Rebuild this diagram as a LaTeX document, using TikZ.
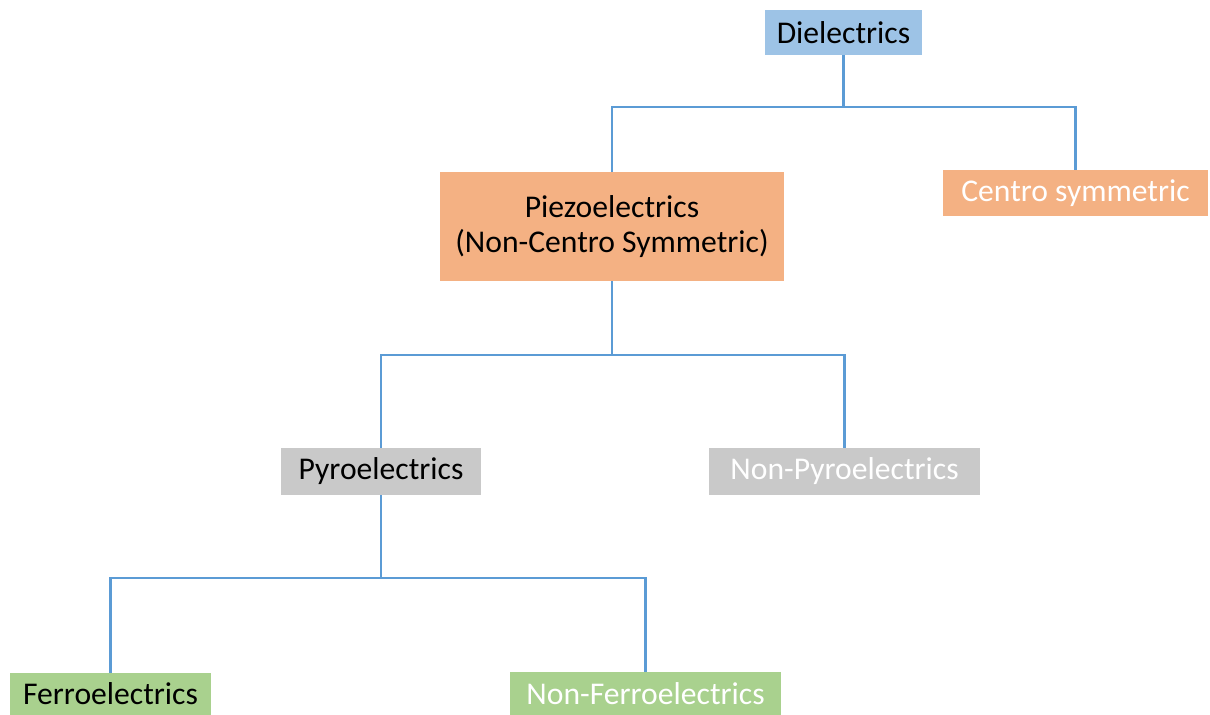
\documentclass[tikz,border=0pt]{standalone}
\usepackage{fontspec}
\setmainfont{Carlito}
\usetikzlibrary{calc}
\definecolor{linkblue}{HTML}{5B9BD5}
\definecolor{boxblue}{HTML}{9DC3E6}
\definecolor{boxorange}{HTML}{F4B183}
\definecolor{boxgrey}{HTML}{C9C9C9}
\definecolor{boxgreen}{HTML}{A9D18E}
\tikzset{
	cls/.style={inner sep=0pt, align=center, font=\fontsize{18}{20}\selectfont},
	link/.style={draw=linkblue, line width=1.4pt}
}

\begin{document}
\begin{tikzpicture}
			%%%%% START %%%%%
			\useasboundingbox (0, 0) rectangle (24.2, -14.3);
			
			\node[cls, fill=boxblue, minimum width=3.14cm, minimum height=0.9cm] (diel) at (16.87, -0.65) {Dielectrics};
			
			\node[cls, fill=boxorange, minimum width=6.88cm, minimum height=2.18cm] (piezo) at (12.24, -4.53) {Piezoelectrics\\(Non-Centro Symmetric)};
			\node[cls, fill=boxorange, text=white, minimum width=5.3cm, minimum height=0.92cm] (centro) at (21.51, -3.86) {Centro symmetric};
			
			\node[cls, fill=boxgrey, minimum width=4cm, minimum height=0.94cm] (pyro) at (7.62, -9.43) {Pyroelectrics};
			\node[cls, fill=boxgrey, text=white, minimum width=5.42cm, minimum height=0.94cm] (nonpyro) at (16.89, -9.43) {Non-Pyroelectrics};
			
			\node[cls, fill=boxgreen, minimum width=4.02cm, minimum height=0.84cm] (ferro) at (2.21, -13.88) {Ferroelectrics};
			\node[cls, fill=boxgreen, text=white, minimum width=5.42cm, minimum height=0.86cm] (nonferro) at (12.91, -13.87) {Non-Ferroelectrics};
			
			\coordinate (j1) at (16.87, -2.14);
			\coordinate (j2) at (12.24, -7.1);
			\coordinate (j3) at (7.62, -11.56);
			
			\draw[link] (diel) -- (j1) -| (piezo);
			\draw[link] (j1) -| (centro);
			
			\draw[link] (piezo) -- (j2) -| (pyro);
			\draw[link] (j2) -| (nonpyro);
			
			\draw[link] (pyro) -- (j3) -| (ferro);
			\draw[link] (j3) -| (nonferro);
			
			%%%%% END %%%%%
		\end{tikzpicture}
\end{document}
